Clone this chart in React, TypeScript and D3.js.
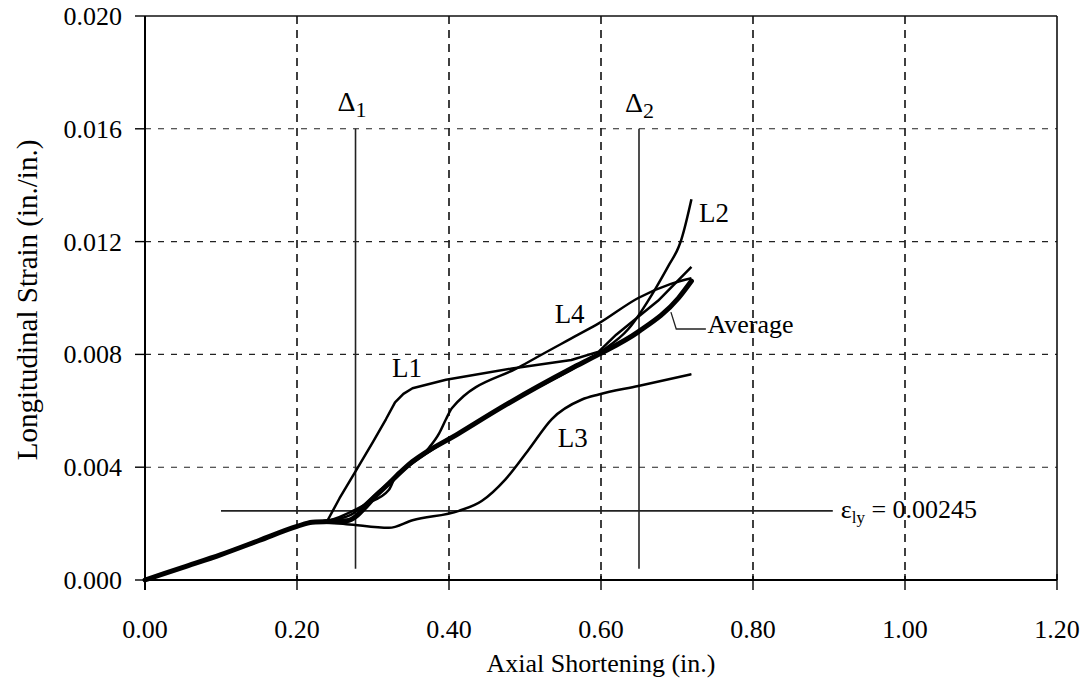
import React from "react";
import * as d3 from "d3";

type Pt = [number, number];

// Axis ticks
const axialTicks = [0, 0.2, 0.4, 0.6, 0.8, 1.0, 1.2];
const strainTicks = [0, 0.004, 0.008, 0.012, 0.016, 0.02];

// Gage readings: [axial shortening (in.), longitudinal strain (in./in.)]
const gageL1: Pt[] = [
  [0, 0], [0.05, 0.00045], [0.1, 0.0009], [0.15, 0.0014], [0.2, 0.0019], [0.22, 0.00205],
  [0.24, 0.0021], [0.256, 0.0029], [0.278, 0.0039], [0.3, 0.0049], [0.317, 0.0057],
  [0.329, 0.0063], [0.34, 0.0066], [0.352, 0.0068], [0.396, 0.0071], [0.483, 0.0075],
  [0.561, 0.0078], [0.597, 0.0081], [0.62, 0.0087], [0.675, 0.0099], [0.719, 0.0111],
];

const gageL2: Pt[] = [
  [0, 0], [0.05, 0.00045], [0.1, 0.0009], [0.15, 0.0014], [0.2, 0.0019], [0.22, 0.00205],
  [0.24, 0.0021], [0.27, 0.0023], [0.31, 0.0032], [0.35, 0.0041], [0.4, 0.005],
  [0.45, 0.0058], [0.5, 0.0066], [0.55, 0.0073], [0.6, 0.0081], [0.636, 0.0089],
  [0.671, 0.0103], [0.69, 0.0112], [0.702, 0.0118], [0.706, 0.0121], [0.719, 0.0135],
];

const gageL3: Pt[] = [
  [0, 0], [0.05, 0.00045], [0.1, 0.0009], [0.15, 0.0014], [0.2, 0.0019], [0.22, 0.00205],
  [0.265, 0.00198], [0.321, 0.00185], [0.352, 0.00212], [0.413, 0.00245], [0.443, 0.0028],
  [0.474, 0.00356], [0.505, 0.00463], [0.535, 0.0057], [0.575, 0.0064], [0.597, 0.00658],
  [0.649, 0.00688], [0.719, 0.0073],
];

const gageL4: Pt[] = [
  [0, 0], [0.05, 0.00045], [0.1, 0.0009], [0.15, 0.0014], [0.2, 0.0019], [0.22, 0.00205],
  [0.24, 0.0021], [0.291, 0.0027], [0.321, 0.0032], [0.33, 0.0037], [0.343, 0.004],
  [0.374, 0.0047], [0.387, 0.0052], [0.396, 0.0057], [0.404, 0.0061], [0.496, 0.0076],
  [0.57, 0.0087], [0.597, 0.0091], [0.649, 0.01], [0.692, 0.0105], [0.719, 0.0107],
];

const gageAverage: Pt[] = [
  [0, 0], [0.05, 0.00045], [0.1, 0.0009], [0.15, 0.0014], [0.2, 0.0019], [0.22, 0.00205],
  [0.265, 0.0021], [0.308, 0.0031], [0.352, 0.0042], [0.413, 0.0052], [0.474, 0.0062],
  [0.561, 0.0075], [0.597, 0.008], [0.649, 0.0088], [0.702, 0.01], [0.719, 0.0106],
];

// Reference markers
const delta1 = 0.277;
const delta2 = 0.65;
const markerTop = 0.016;
const markerBottom = 0.0004;
const yieldStrain = 0.00245;
const yieldFrom = 0.1;
const yieldTo = 0.905;

// Callout for the average curve
const averageLeader: Pt[] = [[0.692, 0.0095], [0.699, 0.0089], [0.738, 0.0089]];

const W = 1089;
const H = 690;
const left = 145;
const right = 1057;
const top = 16;
const bottom = 580;
const FONT = "'Liberation Serif', 'Times New Roman', serif";

export default function App() {
  const x = d3.scaleLinear().domain([0, 1.2]).range([left, right]);
  const y = d3.scaleLinear().domain([0, 0.02]).range([bottom, top]);
  const straight = d3
    .line<Pt>()
    .x((d) => x(d[0]))
    .y((d) => y(d[1]));
  const smooth = d3
    .line<Pt>()
    .x((d) => x(d[0]))
    .y((d) => y(d[1]))
    .curve(d3.curveMonotoneX);

  const thin: { pts: Pt[]; gen: d3.Line<Pt> }[] = [
    { pts: gageL1, gen: straight },
    { pts: gageL2, gen: smooth },
    { pts: gageL3, gen: smooth },
    { pts: gageL4, gen: smooth },
  ];

  return (
    <svg
      width={W}
      height={H}
      viewBox={`0 0 ${W} ${H}`}
      style={{ position: "absolute", left: 0, top: 0, background: "#fff" }}
      fontFamily={FONT}
    >
      <rect x={0} y={0} width={W} height={H} fill="#fff" />

      {/* grid */}
      {axialTicks.slice(1, -1).map((t) => (
        <line
          key={`gx${t}`}
          x1={x(t)}
          x2={x(t)}
          y1={y(0.02)}
          y2={y(0)}
          stroke="#111"
          strokeWidth={1.6}
          strokeDasharray="8 6"
        />
      ))}
      {strainTicks.slice(1, -1).map((t) => (
        <line
          key={`gy${t}`}
          x1={x(0)}
          x2={x(1.2)}
          y1={y(t)}
          y2={y(t)}
          stroke="#222"
          strokeWidth={1.1}
          strokeDasharray="6 7"
        />
      ))}

      {/* frame */}
      <line x1={x(0)} x2={x(1.2)} y1={y(0.02)} y2={y(0.02)} stroke="#111" strokeWidth={1.6} />
      <line x1={x(1.2)} x2={x(1.2)} y1={y(0.02)} y2={y(0)} stroke="#111" strokeWidth={1.6} />
      <line x1={x(0)} x2={x(1.2)} y1={y(0)} y2={y(0)} stroke="#000" strokeWidth={2} />
      <line x1={x(0)} x2={x(0)} y1={y(0.02)} y2={y(0) + 10} stroke="#000" strokeWidth={2} />

      {/* ticks and tick labels */}
      {strainTicks.map((t) => (
        <g key={`ty${t}`}>
          <line x1={x(0) - 10} x2={x(0)} y1={y(t)} y2={y(t)} stroke="#000" strokeWidth={1.4} />
          <text x={x(0) - 23} y={y(t) + 9} textAnchor="end" fontSize={26} fill="#000">
            {d3.format(".3f")(t)}
          </text>
        </g>
      ))}
      {axialTicks.map((t) => (
        <g key={`tx${t}`}>
          <line x1={x(t)} x2={x(t)} y1={y(0) - 6} y2={y(0) + 10} stroke="#000" strokeWidth={1.4} />
          <text x={x(t)} y={638} textAnchor="middle" fontSize={26} fill="#000">
            {d3.format(".2f")(t)}
          </text>
        </g>
      ))}

      {/* axis titles */}
      <text x={(left + right) / 2} y={672} textAnchor="middle" fontSize={26} fill="#000">
        Axial Shortening (in.)
      </text>
      <text
        transform={`translate(37, ${(top + bottom) / 2 + 2}) rotate(-90)`}
        textAnchor="middle"
        fontSize={29}
        fill="#000"
      >
        Longitudinal Strain (in./in.)
      </text>

      {/* reference lines */}
      <line
        x1={x(delta1)}
        x2={x(delta1)}
        y1={y(markerTop)}
        y2={y(markerBottom)}
        stroke="#222"
        strokeWidth={1.6}
      />
      <line
        x1={x(delta2)}
        x2={x(delta2)}
        y1={y(markerTop)}
        y2={y(markerBottom)}
        stroke="#222"
        strokeWidth={1.6}
      />
      <line
        x1={x(yieldFrom)}
        x2={x(yieldTo)}
        y1={y(yieldStrain)}
        y2={y(yieldStrain)}
        stroke="#222"
        strokeWidth={1.6}
      />

      {/* gage curves */}
      {thin.map((s, i) => (
        <path key={i} d={s.gen(s.pts) ?? ""} fill="none" stroke="#000" strokeWidth={2.5} strokeLinejoin="round" />
      ))}
      <path
        d={smooth(gageAverage) ?? ""}
        fill="none"
        stroke="#000"
        strokeWidth={5}
        strokeLinejoin="round"
        strokeLinecap="round"
      />
      <path d={straight(averageLeader) ?? ""} fill="none" stroke="#222" strokeWidth={1.3} />

      {/* labels */}
      <text x={x(0.325)} y={y(0.0072)} fontSize={27} fill="#000">L1</text>
      <text x={x(0.729)} y={y(0.0127)} fontSize={27} fill="#000">L2</text>
      <text x={x(0.543)} y={y(0.00472)} fontSize={27} fill="#000">L3</text>
      <text x={x(0.539)} y={y(0.00911)} fontSize={27} fill="#000">L4</text>
      <text x={x(0.74)} y={y(0.00876)} fontSize={26} fill="#000">Average</text>

      <text x={x(delta1) - 18} y={111} fontSize={28} fill="#000">
        Δ<tspan fontSize={22} dy={6}>1</tspan>
      </text>
      <text x={x(delta2) - 14} y={112} fontSize={28} fill="#000">
        Δ<tspan fontSize={22} dy={6}>2</tspan>
      </text>

      <text x={x(yieldTo) + 8} y={y(yieldStrain) + 7} fontSize={26} fill="#000">
        ε<tspan fontSize={17} dy={5}>ly</tspan>
        <tspan dy={-5}> = 0.00245</tspan>
      </text>
    </svg>
  );
}
